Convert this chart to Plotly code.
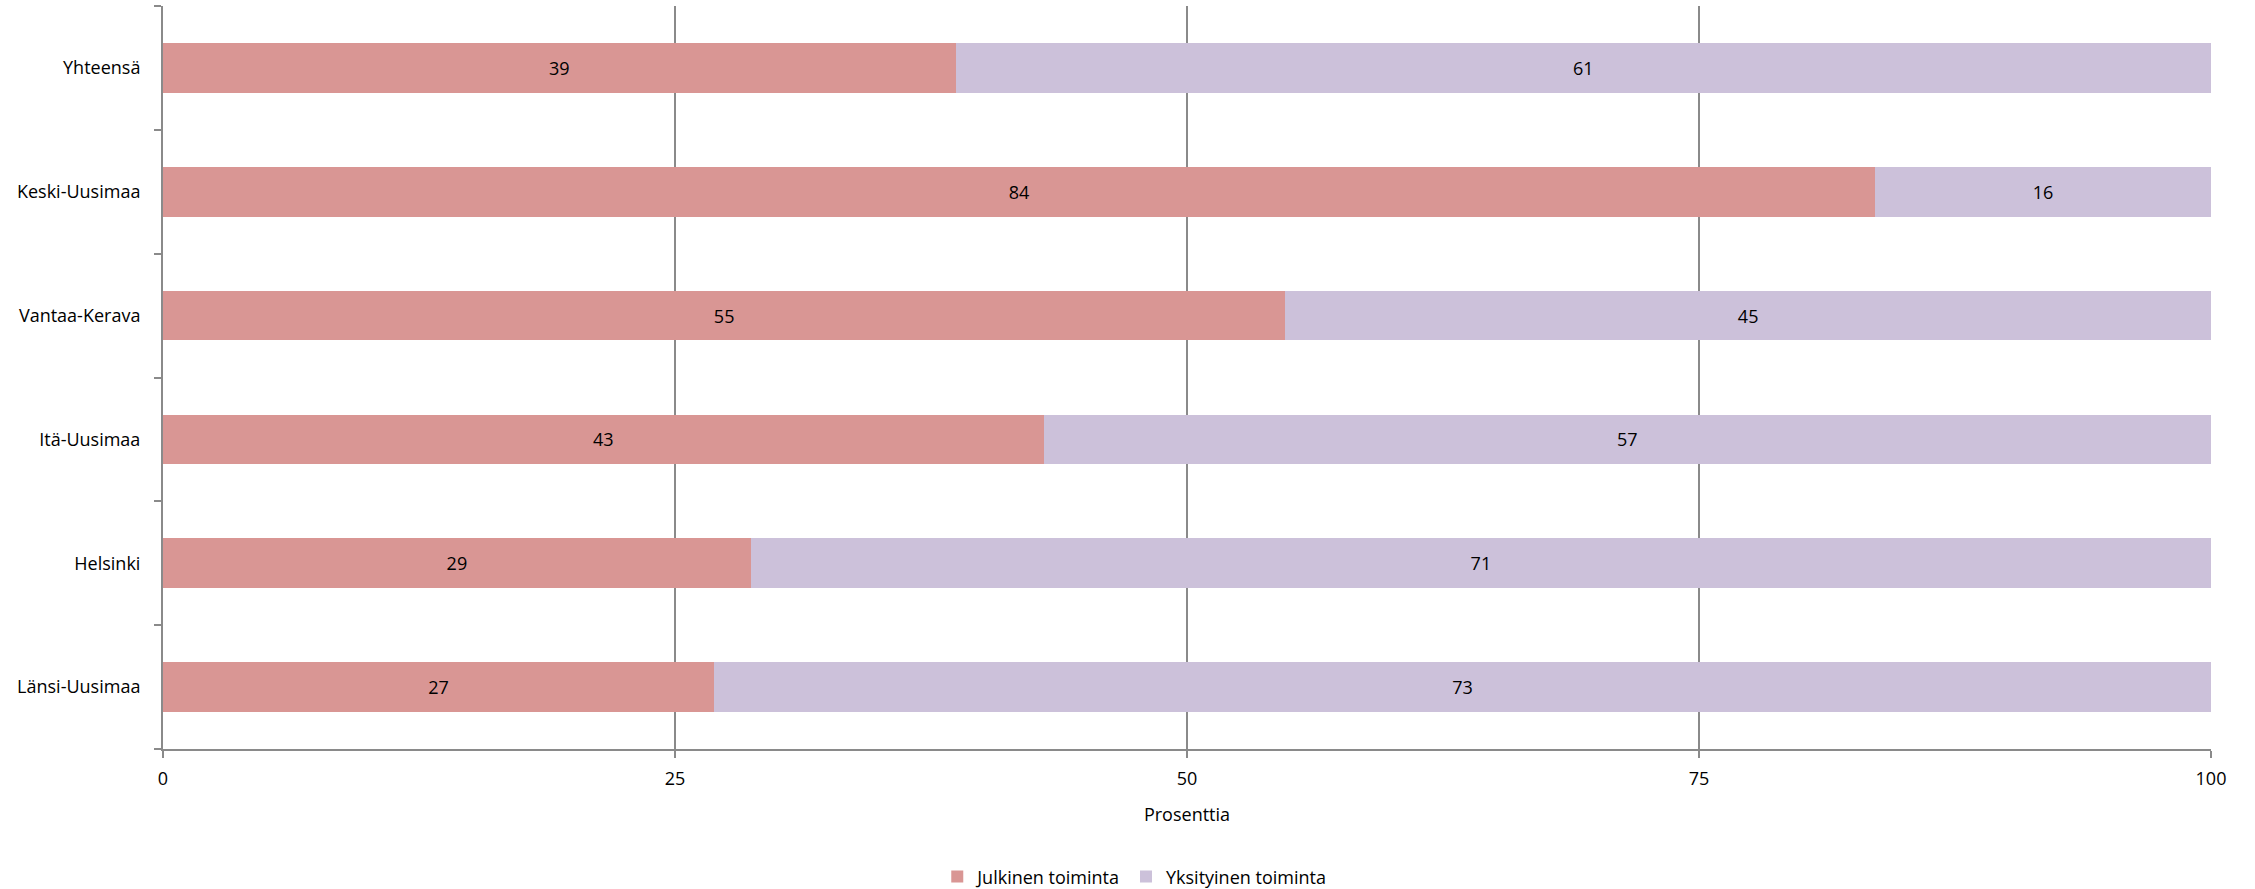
import plotly.graph_objects as go

categories = ["Yhteensä", "Keski-Uusimaa", "Vantaa-Kerava", "Itä-Uusimaa", "Helsinki", "Länsi-Uusimaa"]
julkinen = [38.7, 83.6, 54.8, 43.0, 28.7, 26.9]
yksityinen = [61.3, 16.4, 45.2, 57.0, 71.3, 73.1]
x_ticks = [0, 25, 50, 75, 100]

FONT = "'Open Sans', Lato, sans-serif"
FS = 18
fig = go.Figure()
fig.add_trace(go.Bar(
    y=categories, x=julkinen, orientation="h", name="Julkinen toiminta",
    marker=dict(color="#D99694", line=dict(width=0)),
    text=julkinen, texttemplate="%{x:.0f}", textposition="inside",
    insidetextanchor="middle", textfont=dict(color="black", size=FS, family=FONT),
))
fig.add_trace(go.Bar(
    y=categories, x=yksityinen, orientation="h", name="Yksityinen toiminta",
    marker=dict(color="#CCC1DA", line=dict(width=0)),
    text=yksityinen, texttemplate="%{x:.0f}", textposition="inside",
    insidetextanchor="middle", textfont=dict(color="black", size=FS, family=FONT),
))
fig.update_layout(
    barmode="stack", bargap=0.6,
    width=2255, height=889,
    margin=dict(l=163, r=44, t=6, b=140, autoexpand=False),
    plot_bgcolor="white", paper_bgcolor="white",
    font=dict(family=FONT, size=FS, color="black"),
    showlegend=True,
    legend=dict(orientation="h", xref="container", x=0.503, xanchor="center",
                y=-0.172, yanchor="middle",
                font=dict(size=FS), itemwidth=30, traceorder="normal"),
)
fig.update_xaxes(
    range=[0, 100], tickvals=x_ticks, ticktext=[str(v) for v in x_ticks],
    showgrid=True, gridcolor="#8a8a8a", gridwidth=1.5,
    showline=True, linecolor="#8a8a8a", linewidth=2,
    ticks="outside", ticklen=7, tickcolor="#8a8a8a", tickwidth=2,
    zeroline=False, ticklabelstandoff=5, automargin=False,
    title=dict(text="Prosenttia", standoff=20, font=dict(size=FS)),
)
fig.update_yaxes(
    categoryorder="array", categoryarray=categories[::-1],
    autorange=False, range=[-0.5, 5.5],
    showgrid=False, showline=True, linecolor="#8a8a8a", linewidth=2,
    ticks="outside", ticklen=7, tickcolor="#8a8a8a", tickwidth=2,
    tickson="boundaries", ticklabelstandoff=17, automargin=False,
)
fig.write_html("out.html", config={"displayModeBar": False},
               post_script="document.body.style.margin='0px';")
